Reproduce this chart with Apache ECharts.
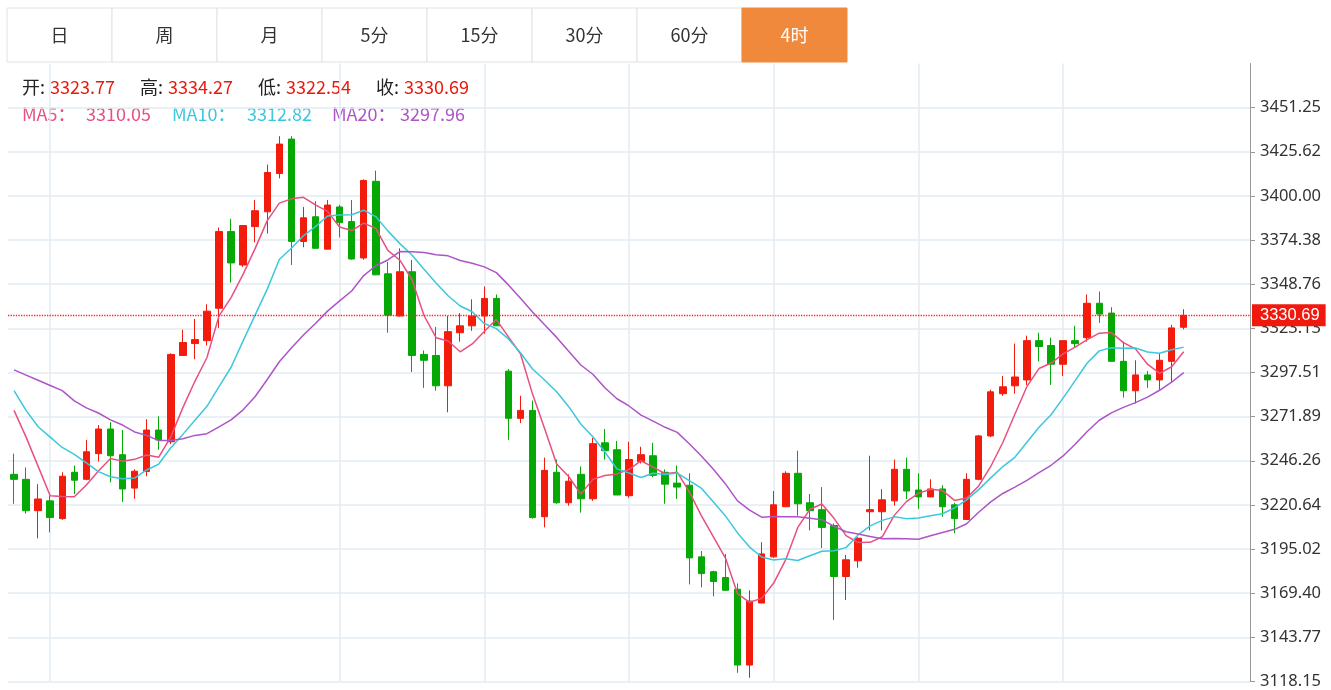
<!DOCTYPE html>
<html><head><meta charset="utf-8">
<script src="https://cdn.jsdelivr.net/npm/echarts@6/dist/echarts.min.js"></script>
<style>html,body{margin:0;padding:0;background:#fff}#c{width:1331px;height:690px}</style>
</head><body><div id="c"></div>
<script>
// [open, close, low, high]
const opens  = [3238.4,3235.5,3217.3,3223.0,3212.7,3239.6,3235.5,3250.4,3264.7,3249.8,3230.4,3240.1,3264.1,3257.3,3307.4,3314.3,3316.0,3334.8,3379.3,3359.9,3382.2,3390.8,3413.0,3433.0,3373.6,3387.9,3369.1,3393.6,3385.1,3364.0,3408.5,3354.8,3330.3,3356.0,3308.0,3307.4,3289.8,3320.6,3324.6,3330.3,3340.5,3298.3,3270.9,3275.5,3213.8,3239.6,3221.9,3238.4,3224.2,3256.7,3252.7,3226.0,3245.8,3249.2,3239.6,3233.3,3232.1,3190.5,3181.9,3178.5,3171.7,3127.7,3163.7,3190.5,3219.6,3239.0,3221.9,3217.9,3208.7,3179.1,3188.2,3216.7,3216.7,3223.0,3241.3,3229.3,3225.3,3229.9,3220.7,3212.2,3235.5,3260.7,3285.2,3289.8,3293.2,3316.0,3313.2,3302.3,3316.0,3317.7,3337.7,3332.0,3304.0,3286.9,3296.1,3293.2,3304.0,3323.77];
const closes = [3235.5,3217.3,3224.1,3213.3,3237.3,3235.0,3251.5,3264.7,3249.2,3229.9,3240.2,3264.1,3258.4,3308.0,3314.9,3316.6,3333.1,3379.3,3361.1,3382.8,3391.4,3413.6,3430.1,3373.6,3387.3,3369.6,3394.7,3384.5,3363.4,3409.0,3354.2,3330.8,3356.0,3307.4,3304.6,3289.8,3321.2,3324.6,3330.3,3340.5,3324.6,3270.9,3275.5,3213.3,3240.7,3221.9,3234.4,3224.2,3256.2,3252.1,3226.4,3247.0,3249.8,3237.8,3232.7,3231.0,3189.9,3180.8,3176.2,3171.1,3127.7,3164.8,3192.2,3220.7,3239.0,3221.3,3217.3,3207.6,3179.1,3188.8,3201.3,3217.9,3223.6,3241.3,3228.7,3225.3,3229.9,3219.6,3212.7,3235.5,3260.7,3286.3,3289.2,3294.9,3316.0,3312.6,3302.3,3316.0,3314.3,3337.7,3331.4,3304.0,3286.9,3296.1,3293.2,3304.6,3323.4,3330.69];
const lows   = [3221.3,3215.6,3201.3,3204.7,3212.0,3227.0,3235.0,3245.8,3233.8,3222.4,3224.2,3237.3,3252.7,3256.0,3307.4,3305.2,3313.2,3323.4,3349.7,3358.8,3373.1,3378.2,3410.2,3359.9,3370.2,3369.6,3369.0,3375.9,3363.0,3363.0,3354.0,3320.6,3330.0,3297.8,3288.6,3286.9,3274.4,3315.4,3321.7,3320.0,3324.6,3258.4,3268.1,3212.7,3207.6,3221.3,3220.2,3216.2,3223.0,3247.0,3226.4,3224.8,3244.7,3236.7,3221.3,3224.1,3174.5,3172.8,3167.6,3171.1,3123.2,3120.3,3163.7,3190.0,3219.6,3214.4,3205.9,3195.6,3153.9,3165.4,3184.2,3205.9,3205.9,3220.2,3224.1,3218.4,3225.3,3213.8,3204.2,3212.0,3235.0,3260.0,3284.0,3285.2,3290.3,3304.0,3290.3,3295.5,3312.0,3315.4,3326.3,3304.0,3282.9,3279.5,3288.6,3287.5,3291.5,3322.54];
const highs  = [3250.4,3242.4,3232.7,3225.9,3239.6,3243.5,3258.4,3267.0,3268.7,3264.1,3241.3,3270.4,3272.1,3308.6,3322.3,3328.6,3337.1,3381.6,3386.7,3382.8,3397.6,3418.2,3434.7,3434.7,3393.6,3397.0,3397.6,3394.8,3397.6,3409.6,3414.7,3361.7,3369.6,3362.8,3310.3,3324.0,3330.3,3332.0,3340.0,3347.4,3342.8,3299.5,3284.0,3281.2,3248.1,3247.0,3238.4,3243.0,3259.6,3264.7,3257.8,3257.3,3254.4,3256.7,3241.3,3243.5,3239.0,3193.9,3182.5,3192.2,3175.1,3171.1,3199.0,3228.7,3240.2,3252.1,3227.0,3231.0,3209.9,3191.6,3201.9,3249.2,3229.8,3247.0,3248.1,3239.0,3235.5,3232.1,3221.9,3239.0,3261.3,3287.5,3295.5,3314.3,3318.9,3320.6,3317.7,3316.0,3324.6,3342.8,3344.5,3335.4,3315.4,3304.6,3298.3,3308.6,3325.2,3334.27];
// moving-average values before enough history is on screen
const ma5Early  = [3275.5,3260,3243,3226];
const ma10Early = [3287,3275.5,3266,3260,3254,3250,3245,3240,3237];
const ma20Early = [3299,3296,3293,3290,3287,3281,3277,3274,3270,3267,3263,3261,3258,3258,3259,3261,3262,3266,3270];
const yTicks = [3118.15,3143.77,3169.40,3195.02,3220.64,3246.26,3271.89,3297.51,3323.13,3348.76,3374.38,3400.00,3425.62,3451.25];
const dayStarts = [3,27,39,51,63,75,87];
const tabs = ['日','周','月','5分','15分','30分','60分','4时'];
const lastPrice = 3330.69;

const N = closes.length, EXTRA = 5;
const cats = []; for (let i=0;i<N+EXTRA;i++) cats.push(String(i));
const kdata = closes.map((c,i)=>[opens[i],c,lows[i],highs[i]]);
function ma(n, early){
  return closes.map((c,i)=>{
    if (i < n-1) return early[i];
    let s=0; for(let j=i-n+1;j<=i;j++) s+=closes[j]; return +(s/n).toFixed(2);
  });
}
const RED='#f21b0c', GREEN='#06a806';
const C5='#e8507f', C10='#3cc8dc', C20='#ad55c6';
const FONT='"Noto Sans CJK SC", sans-serif';

const graphic = [];
tabs.forEach((t,i)=>{
  const active = i===tabs.length-1;
  graphic.push({type:'rect',shape:{x:7+i*105,y:8,width:105,height:54},style:{fill:active?'#f0893b':'#fff',stroke:active?'#f0893b':'#e2e2e2',lineWidth:1}});
  graphic.push({type:'text',x:7+i*105+52.5,y:35,style:{text:t,fill:active?'#fff':'#333',font:'18px '+FONT,align:'center',verticalAlign:'middle'}});
});
function txt(s,x,y,color){ graphic.push({type:'text',x:x,y:y,style:{text:s,fill:color,font:'18px '+FONT,verticalAlign:'middle'}}); }
txt('开:',22,87,'#222'); txt('3323.77',50,87,'#e8190c');
txt('高:',140,87,'#222'); txt('3334.27',168,87,'#e8190c');
txt('低:',258,87,'#222'); txt('3322.54',286,87,'#e8190c');
txt('收:',376,87,'#222'); txt('3330.69',404,87,'#e8190c');
txt('MA5：',22,114,C5); txt('3310.05',86,114,C5);
txt('MA10：',172,114,C10); txt('3312.82',247,114,C10);
txt('MA20：',332,114,C20); txt('3297.96',400,114,C20);

const chart = echarts.init(document.getElementById('c'));
chart.setOption({
  animation:false,
  grid:{left:8,right:81,top:63.5,bottom:1},
  xAxis:{type:'category',data:cats,boundaryGap:true,axisLine:{show:false},axisTick:{show:false},axisLabel:{show:false},splitLine:{show:false}},
  yAxis:{type:'value',position:'right',min:3118.15,max:3476.87,scale:true,
    axisLine:{show:true,lineStyle:{color:'#999'}},
    axisTick:{show:true,length:5,lineStyle:{color:'#999'},customValues:yTicks},
    axisLabel:{customValues:yTicks,formatter:v=>v.toFixed(2),color:'#333',fontSize:16.5,margin:10,fontFamily:'"Noto Sans", sans-serif'},
    splitLine:{show:false}},
  graphic:graphic,
  series:[
    {type:'candlestick',data:kdata,barWidth:7,
      itemStyle:{color:RED,color0:GREEN,borderColor:RED,borderColor0:GREEN,borderWidth:1},
      markLine:{silent:true,symbol:'none',z:0,animation:false,
        data:[
          ...yTicks.map(v=>({yAxis:v,lineStyle:{color:'#e3ecf3',type:'solid',width:1.5},label:{show:false}})),
          ...dayStarts.map(i=>({xAxis:i,lineStyle:{color:'#e3ecf3',type:'solid',width:1.5},label:{show:false}}))
        ]}},
    {type:'candlestick',data:[],markLine:{silent:true,symbol:'none',z:10,animation:false,
      lineStyle:{color:'#ff2020',type:'dotted',width:1.3},
      data:[{yAxis:lastPrice,
        lineStyle:{color:'#ff2020',type:'dotted',width:1.3},
        label:{show:true,position:'end',formatter:lastPrice.toFixed(2),color:'#fff',backgroundColor:'#f0190e',padding:[3,6,2,8],fontSize:16.5,distance:2}}]}},
    {type:'line',data:ma(5,ma5Early),showSymbol:false,smooth:false,lineStyle:{color:C5,width:1.5},z:5},
    {type:'line',data:ma(10,ma10Early),showSymbol:false,lineStyle:{color:C10,width:1.5},z:5},
    {type:'line',data:ma(20,ma20Early),showSymbol:false,lineStyle:{color:C20,width:1.5},z:5}
  ]
});
</script></body></html>
